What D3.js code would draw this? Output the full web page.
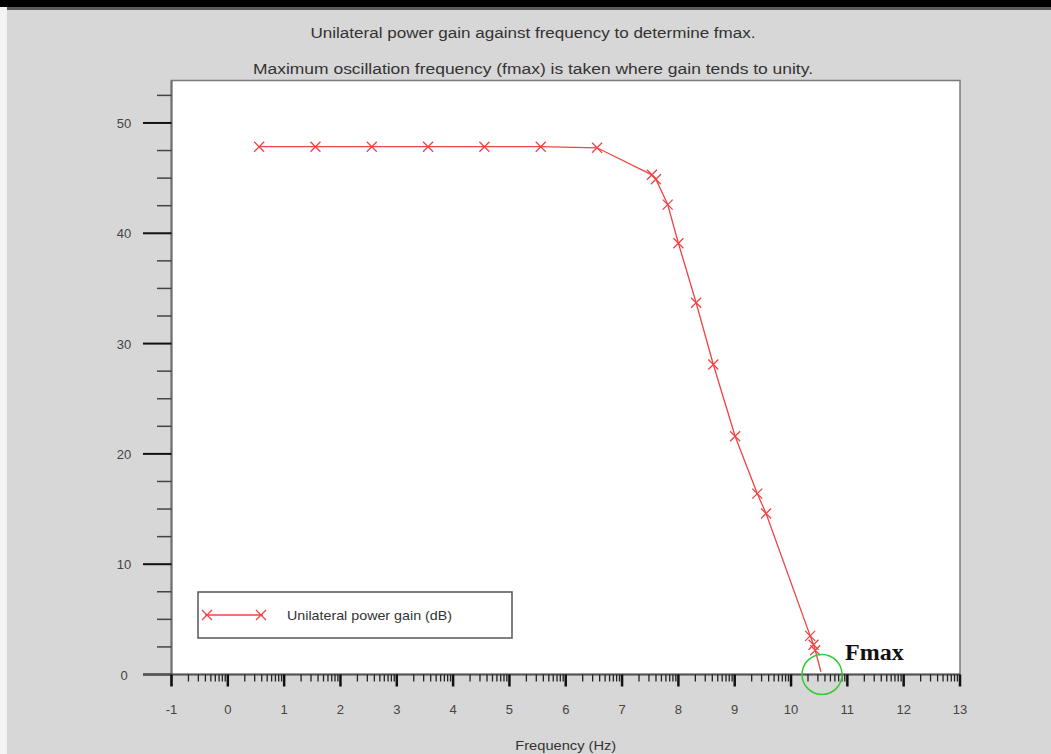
<!DOCTYPE html>
<html>
<head>
<meta charset="utf-8">
<script src="https://cdn.jsdelivr.net/npm/d3@7"></script>
<style>
  html, body { margin: 0; padding: 0; background: #d7d7d7; }
  svg { display: block; }
  text { font-family: "Liberation Sans", Arial, sans-serif; }
  text.serif { font-family: "Liberation Serif", "Times New Roman", serif; }
</style>
</head>
<body>
<svg id="chart" width="1051" height="754"></svg>
<script>
// log10 of frequency (Hz) and unilateral power gain (dB)
const logFreq = [0.556, 1.556, 2.556, 3.556, 4.556, 5.556, 6.556,
                 7.53, 7.60, 7.81, 8.00, 8.315, 8.62, 9.007, 9.40, 9.557,
                 10.34, 10.40, 10.43, 10.53];
const gainDb  = [47.85, 47.85, 47.85, 47.85, 47.85, 47.85, 47.75,
                 45.3, 44.9, 42.6, 39.1, 33.7, 28.1, 21.6, 16.4, 14.6,
                 3.5, 2.7, 2.2, 0.25];
const xTicks = [-1, 0, 1, 2, 3, 4, 5, 6, 7, 8, 9, 10, 11, 12, 13];
const yTicks = [0, 10, 20, 30, 40, 50];
const yMinorTicks = d3.range(0, 53, 2.5).filter(v => v % 10 !== 0);
const titleLines = [
  "Unilateral power gain against frequency to determine fmax.",
  "Maximum oscillation frequency (fmax) is taken where gain tends to unity."
];
const xLabel = "Frequency (Hz)";
const legendLabel = "Unilateral power gain (dB)";
const fmaxLabel = "Fmax";
const fmaxLog = 10.55;

(function draw() {
  const svg = d3.select("#chart");
  const W = 1051, H = 754;

  // window chrome
  svg.append("rect").attr("x", 0).attr("y", 0).attr("width", W).attr("height", H).attr("fill", "#d7d7d7");
  svg.append("rect").attr("x", 0).attr("y", 0).attr("width", 7).attr("height", H).attr("fill", "#f4f4f4");
  svg.append("rect").attr("x", 0).attr("y", 0).attr("width", W).attr("height", 7).attr("fill", "#000");
  svg.append("rect").attr("x", 7).attr("y", 7).attr("width", W - 7).attr("height", 3).attr("fill", "#5a5a5a");

  const pLeft = 171.5, pRight = 960, pTop = 80.5, pBottom = 674.5;
  const x = d3.scaleLinear().domain([-1, 13]).range([pLeft, pRight]);
  const y = d3.scaleLinear().domain([0, 53.85]).range([pBottom, pTop]);

  // plot area
  svg.append("rect").attr("x", pLeft).attr("y", pTop)
    .attr("width", pRight - pLeft).attr("height", pBottom - pTop)
    .attr("fill", "#fff").attr("stroke", "#7a7a7a").attr("stroke-width", 1.5);

  // titles (wide face, stretched to the set width)
  const titleWidths = [445, 560];
  svg.selectAll("text.title").data(titleLines).join("text")
    .attr("class", "title")
    .attr("x", 533).attr("y", (d, i) => 38 + i * 36)
    .attr("text-anchor", "middle")
    .attr("font-size", 14).attr("fill", "#333")
    .attr("textLength", (d, i) => titleWidths[i])
    .attr("lengthAdjust", "spacingAndGlyphs")
    .text(d => d);

  // y axis
  const yAxis = svg.append("g");
  yAxis.append("line").attr("x1", pLeft).attr("x2", pLeft).attr("y1", pTop).attr("y2", 686)
    .attr("stroke", "#6e6e6e").attr("stroke-width", 2);
  yAxis.selectAll("line.ymaj").data(yTicks).join("line").attr("class", "ymaj")
    .attr("x1", 143).attr("x2", pLeft).attr("y1", d => y(d)).attr("y2", d => y(d))
    .attr("stroke", "#111").attr("stroke-width", 2);
  yAxis.selectAll("line.ymin").data(yMinorTicks).join("line").attr("class", "ymin")
    .attr("x1", 157).attr("x2", pLeft).attr("y1", d => y(d)).attr("y2", d => y(d))
    .attr("stroke", "#444").attr("stroke-width", 1.5);
  yAxis.selectAll("text").data(yTicks).join("text")
    .attr("x", 124).attr("y", d => y(d) + 5)
    .attr("text-anchor", "middle").attr("font-size", 13).attr("fill", "#444")
    .text(d => d);

  // x axis with logarithmic minor ticks
  const xAxis = svg.append("g");
  xAxis.append("line").attr("x1", 143).attr("x2", pRight).attr("y1", pBottom).attr("y2", pBottom)
    .attr("stroke", "#555").attr("stroke-width", 2);
  const xMinor = [];
  xTicks.slice(0, -1).forEach(t => { for (let k = 2; k <= 9; k++) xMinor.push(t + Math.log10(k)); });
  xAxis.selectAll("line.xmin").data(xMinor).join("line").attr("class", "xmin")
    .attr("x1", d => x(d)).attr("x2", d => x(d)).attr("y1", pBottom).attr("y2", pBottom + 7)
    .attr("stroke", "#222").attr("stroke-width", 1.3);
  xAxis.selectAll("line.xmaj").data(xTicks).join("line").attr("class", "xmaj")
    .attr("x1", d => x(d)).attr("x2", d => x(d)).attr("y1", pBottom).attr("y2", pBottom + 12)
    .attr("stroke", "#111").attr("stroke-width", 2.5);
  xAxis.selectAll("text").data(xTicks).join("text")
    .attr("x", d => x(d)).attr("y", 714)
    .attr("text-anchor", "middle").attr("font-size", 13).attr("fill", "#444")
    .text(d => d);
  svg.append("text").attr("x", (pLeft + pRight) / 2).attr("y", 750)
    .attr("text-anchor", "middle").attr("font-size", 13.5).attr("fill", "#333")
    .attr("textLength", 101).attr("lengthAdjust", "spacingAndGlyphs")
    .text(xLabel);

  // series
  const pts = logFreq.map((f, i) => [f, gainDb[i]]);
  const lineColor = "#f04444";
  svg.append("path").datum(pts)
    .attr("d", d3.line().x(d => x(d[0])).y(d => y(d[1])))
    .attr("fill", "none").attr("stroke", lineColor).attr("stroke-width", 1.3);

  const cross = (g, cx, cy, s) => {
    g.append("path")
      .attr("d", `M${cx - s},${cy - s}L${cx + s},${cy + s}M${cx - s},${cy + s}L${cx + s},${cy - s}`)
      .attr("stroke", lineColor).attr("stroke-width", 1.3).attr("fill", "none");
  };
  // markers on the measured points; the last point is where the trace meets the axis
  const marks = svg.append("g");
  pts.slice(0, -1).forEach(d => cross(marks, x(d[0]), y(d[1]), 5));

  // legend
  const lg = svg.append("g");
  lg.append("rect").attr("x", 198).attr("y", 592).attr("width", 314).attr("height", 46)
    .attr("fill", "#fff").attr("stroke", "#555").attr("stroke-width", 1.5);
  lg.append("line").attr("x1", 205).attr("x2", 263).attr("y1", 615).attr("y2", 615)
    .attr("stroke", lineColor).attr("stroke-width", 1.3);
  cross(lg, 207, 615, 5);
  cross(lg, 261, 615, 5);
  lg.append("text").attr("x", 287).attr("y", 620).attr("font-size", 13).attr("fill", "#333")
    .attr("textLength", 165).attr("lengthAdjust", "spacingAndGlyphs")
    .text(legendLabel);

  // fmax marker
  svg.append("circle").attr("cx", x(fmaxLog)).attr("cy", y(0)).attr("r", 20)
    .attr("fill", "none").attr("stroke", "#33cc33").attr("stroke-width", 1.5);
  svg.append("text").attr("class", "serif").attr("x", 845).attr("y", 660)
    .attr("font-weight", "bold").attr("font-size", 24).attr("fill", "#111")
    .text(fmaxLabel);
})();
</script>
</body>
</html>
